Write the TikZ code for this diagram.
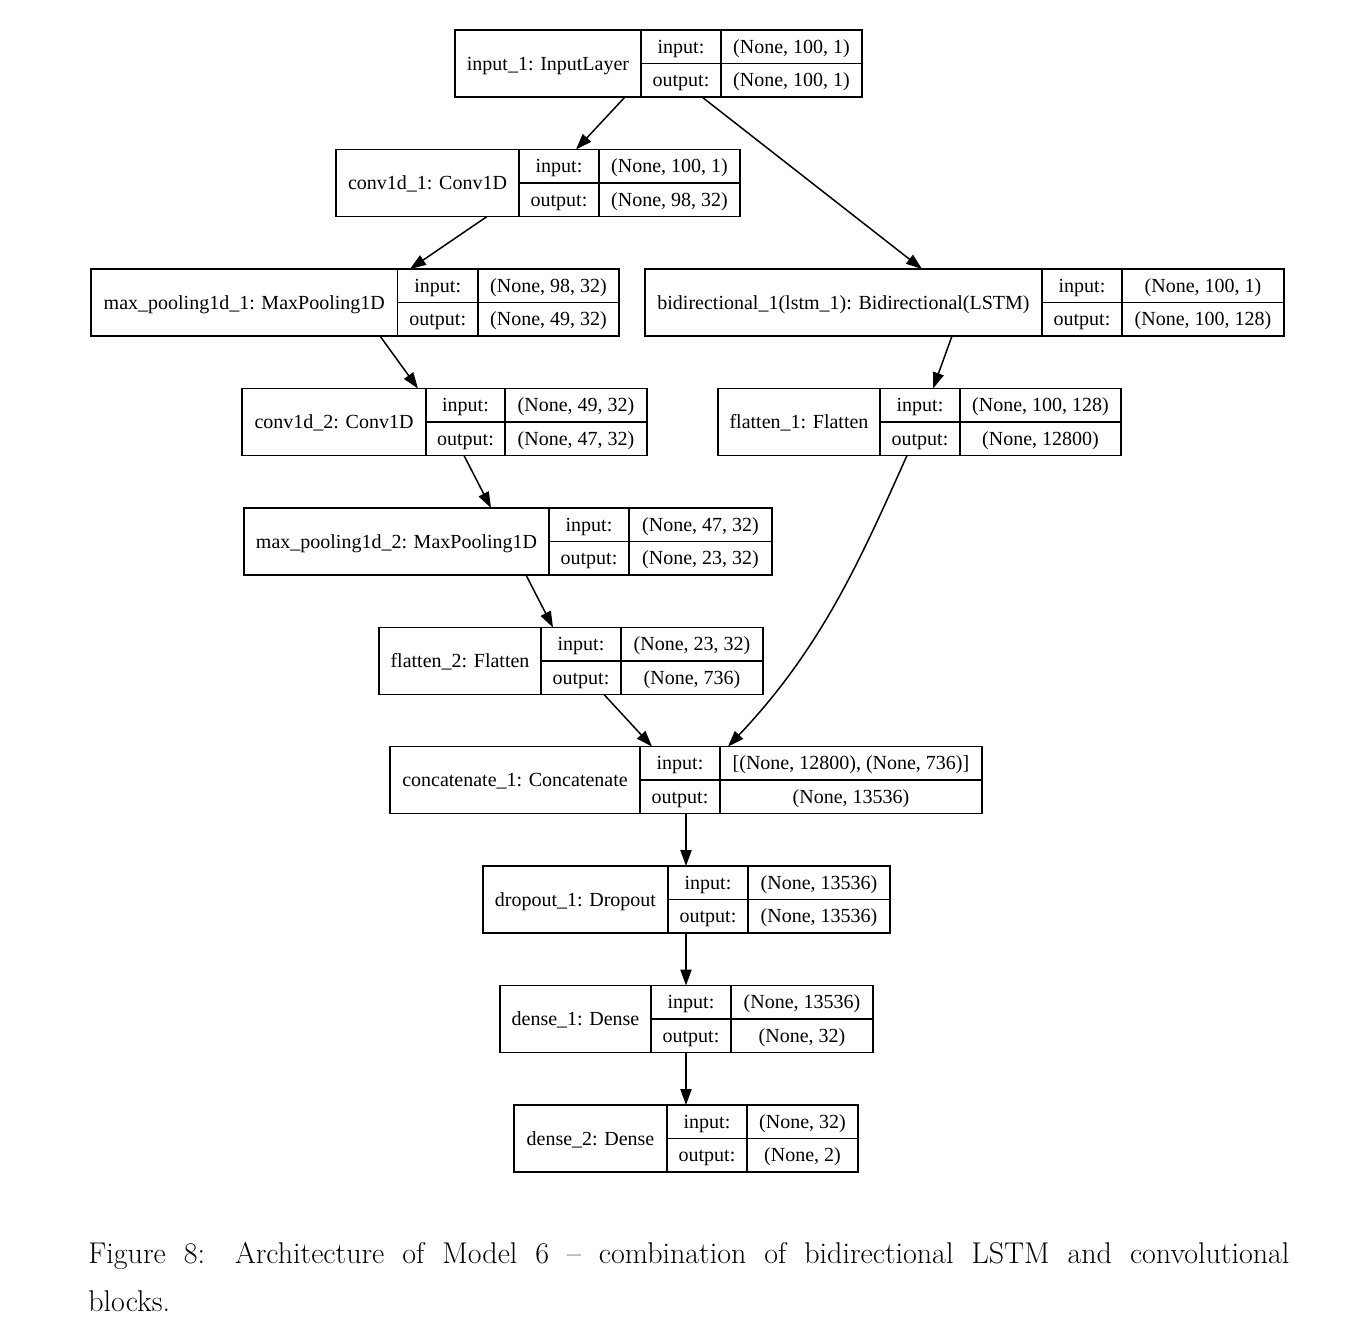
\documentclass[tikz,border=0pt]{standalone}
\usepackage{fontspec}
\newfontfamily\boxfont{Liberation Serif}
\usetikzlibrary{arrows.meta,calc,fit}

\newcommand\layer[9]{% #1 name, #2 L, #3 d1, #4 d2, #5 R, #6 T, #7 label, #8 in, #9 out
  \pgfmathsetmacro\lB{#6+67}%
  \pgfmathsetmacro\lM{#6+33.5}%
  \pgfmathsetmacro\lR{#6+16.75}%
  \pgfmathsetmacro\lS{#6+50.25}%
  \pgfmathsetmacro\cA{(#2+#3)/2}%
  \pgfmathsetmacro\cB{(#3+#4)/2}%
  \pgfmathsetmacro\cC{(#4+#5)/2}%
  \node[box, fit={(#2,#6) (#5,\lB)}] (#1) {};
  \draw[sep] (#3,#6) -- (#3,\lB) (#4,#6) -- (#4,\lB) (#3,\lM) -- (#5,\lM);
  \node[lbl] (#1-name) at (\cA,\lM) {#7};
  \node[lbl] (#1-il) at (\cB,\lR) {input:};
  \node[lbl] (#1-ol) at (\cB,\lS) {output:};
  \node[lbl] (#1-iv) at (\cC,\lR) {#8};
  \node[lbl] (#1-ov) at (\cC,\lS) {#9};
}

\begin{document}
\begin{tikzpicture}[x=0.5pt,y=-0.5pt,
  box/.style={draw, line width=0.8pt, inner sep=0pt, outer sep=0pt},
  sep/.style={line width=0.8pt},
  lbl/.style={inner sep=0pt, font=\boxfont\fontsize{10}{12}\selectfont, text height=6.6pt, text depth=0pt, anchor=center},
  arr/.style={line width=0.75pt, -{Triangle[length=8pt,width=5.6pt]}},
  captxt/.style={anchor=base west, inner sep=0pt, font=\fontsize{15}{18}\selectfont}]
\useasboundingbox (0,0) rectangle (1365,1341);

\layer{L1}{455}{641}{721}{862}{30}{input\_1: InputLayer}{(None, 100, 1)}{(None, 100, 1)}
\layer{L2}{336}{519}{599}{740}{149.5}{conv1d\_1: Conv1D}{(None, 100, 1)}{(None, 98, 32)}
\layer{L3}{91}{397.5}{478}{619}{269}{max\_pooling1d\_1: MaxPooling1D}{(None, 98, 32)}{(None, 49, 32)}
\layer{L4}{645}{1042}{1122}{1284}{269}{bidirectional\_1(lstm\_1): Bidirectional(LSTM)}{(None, 100, 1)}{(None, 100, 128)}
\layer{L5}{242}{426}{505}{647}{388.5}{conv1d\_2: Conv1D}{(None, 49, 32)}{(None, 47, 32)}
\layer{L6}{718}{880}{960}{1121}{388.5}{flatten\_1: Flatten}{(None, 100, 128)}{(None, 12800)}
\layer{L7}{244}{549}{629}{772}{508}{max\_pooling1d\_2: MaxPooling1D}{(None, 47, 32)}{(None, 23, 32)}
\layer{L8}{379}{541}{621}{763}{627.5}{flatten\_2: Flatten}{(None, 23, 32)}{(None, 736)}
\layer{L9}{390}{640}{720}{982}{746.5}{concatenate\_1: Concatenate}{[(None, 12800), (None, 736)]}{(None, 13536)}
\layer{L10}{483}{668}{748}{890}{866}{dropout\_1: Dropout}{(None, 13536)}{(None, 13536)}
\layer{L11}{500}{651}{731}{873}{985.5}{dense\_1: Dense}{(None, 13536)}{(None, 32)}
\layer{L12}{514}{667}{747}{858}{1105}{dense\_2: Dense}{(None, 32)}{(None, 2)}

\draw[arr] ($(L1.south west)+(170,0)$) -- ($(L2.north west)+(240,0)$);
\draw[arr] ($(L1.south west)+(247,0)$) -- ($(L4.north west)+(277,0)$);
\draw[arr] ($(L2.south west)+(151,0)$) -- ($(L3.north west)+(319,0)$);
\draw[arr] ($(L3.south west)+(289,0)$) -- ($(L5.north west)+(176,0)$);
\draw[arr] ($(L4.south west)+(307,0)$) -- ($(L6.north west)+(215,0)$);
\draw[arr] ($(L5.south west)+(222,0)$) -- ($(L7.north west)+(247,0)$);
\draw[arr] ($(L7.south west)+(282,0)$) -- ($(L8.north west)+(174,0)$);
\coordinate (c6s) at ($(L6.south west)+(189,0)$);
\coordinate (c9e) at ($(L9.north west)+(338,0)$);
\draw[arr] (c6s) .. controls ($(c6s)+(-45,100)$) and ($(c9e)+(95,-100)$) .. (c9e);
\draw[arr] ($(L8.south west)+(225,0)$) -- ($(L9.north west)+(262,0)$);
\draw[arr] ($(L9.south west)+(296,0)$) -- ($(L10.north west)+(203,0)$);
\draw[arr] ($(L10.south west)+(203,0)$) -- ($(L11.north west)+(186,0)$);
\draw[arr] ($(L11.south west)+(186,0)$) -- ($(L12.north west)+(172,0)$);

\node[captxt] (cap1) at (88,1263) {\hbox to 600.5pt{Figure 8: Architecture of Model 6 -- combination of bidirectional LSTM and convolutional}};
\node[captxt] (cap2) at (88,1311) {blocks.};
\end{tikzpicture}
\end{document}
